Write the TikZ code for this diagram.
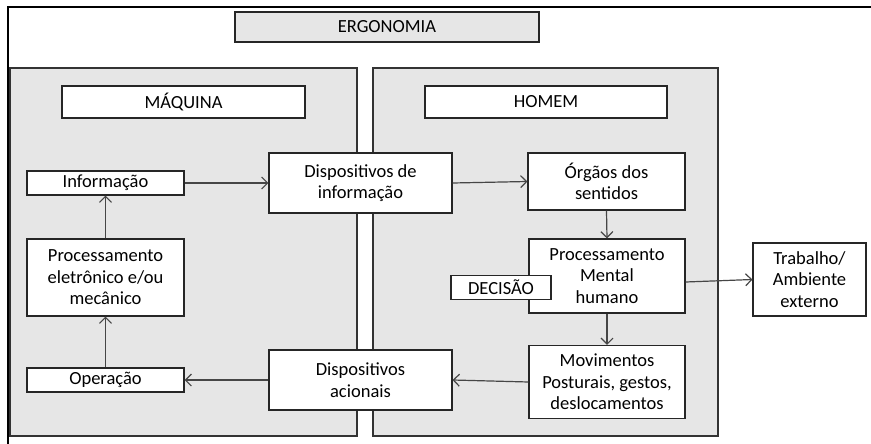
\documentclass[tikz,border=0pt]{standalone}
\usepackage{fontspec}
\setmainfont{Carlito}
\usetikzlibrary{arrows.meta}
\definecolor{panelgray}{RGB}{230,230,230}
\definecolor{linegray}{RGB}{70,70,70}
\tikzset{
  box/.style={draw=black!85, line width=1.1pt, fill=white, inner sep=0pt, align=center,
    font=\fontsize{18.5}{21.5}\selectfont},
  panel/.style={draw=black!80, line width=1.1pt, fill=panelgray},
  arr/.style={draw=linegray, line width=1.2pt, -{Straight Barb[length=6pt,width=12pt,line width=1.2pt]}},
}
\begin{document}
\begin{tikzpicture}[x=1pt,y=-1pt]
\useasboundingbox (0,0) rectangle (871,444);
% outer frame
\draw[line width=1.8pt, black] (8,444) -- (8,7) -- (871,7);
% panels
\draw[panel] (10,68) rectangle (357,436);
\draw[panel] (373,68) rectangle (718,436);
% title
\node[box, fill=panelgray, minimum width=304pt, minimum height=30pt] (ergo) at (387,27) {ERGONOMIA};
\node[box, minimum width=243pt, minimum height=32pt] (maq) at (183.5,102) {MÁQUINA};
\node[box, minimum width=242pt, minimum height=32pt] (hom) at (546,102) {HOMEM};
% machine side
\node[box, minimum width=157pt, minimum height=24pt] (info) at (105.5,183) {Informação};
\node[box, minimum width=157pt, minimum height=77pt] (procm) at (105.5,277.5) {Processamento\\eletrônico e/ou\\mecânico};
\node[box, minimum width=157pt, minimum height=24pt] (oper) at (105.5,380) {Operação};
% middle
\node[box, minimum width=183pt, minimum height=60pt] (dinf) at (360.5,183) {Dispositivos de\\informação};
\node[box, minimum width=183pt, minimum height=60pt] (dac) at (360.5,380) {Dispositivos\\acionais};
% human side
\node[box, minimum width=157pt, minimum height=57pt] (org) at (606.5,181.5) {Órgãos dos\\sentidos};
\node[box, minimum width=156pt, minimum height=74pt] (proch) at (607,276) {Processamento\\Mental\\humano};
\node[box, minimum width=100pt, minimum height=24pt] (dec) at (501,287.5) {DECISÃO};
\node[box, minimum width=156pt, minimum height=73pt] (mov) at (607,382) {Movimentos\\Posturais, gestos,\\deslocamentos};
\node[box, minimum width=113pt, minimum height=73pt] (trab) at (809.5,279.5) {Trabalho/\\Ambiente\\externo};
% connectors
\draw[arr] (info.east) -- (dinf.west);
\draw[arr] (dinf.east) -- (org.west);
\draw[arr] (org.south) -- (proch.north);
\draw[arr] ([yshift=-6pt]proch.east) -- (trab.west);
\draw[arr] (proch.south) -- (mov.north);
\draw[arr] (mov.west) -- (dac.east);
\draw[arr] (dac.west) -- (oper.east);
\draw[arr] (oper.north) -- (procm.south);
\draw[arr] (procm.north) -- (info.south);
\end{tikzpicture}
\end{document}
